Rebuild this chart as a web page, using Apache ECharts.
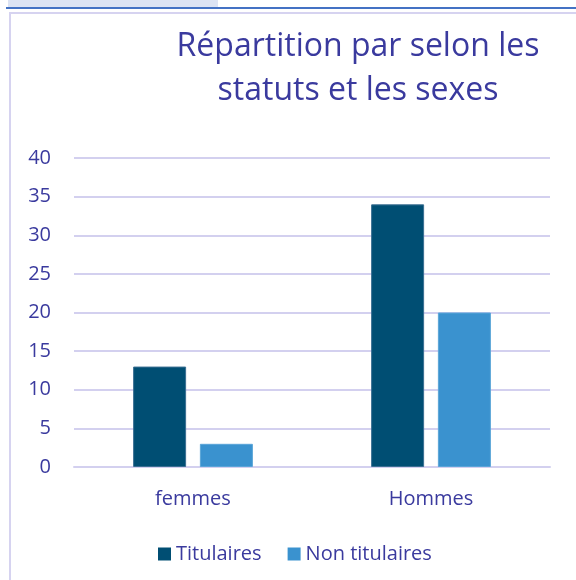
<!DOCTYPE html>
<html lang="fr">
<head>
  <meta charset="UTF-8">
  <title>Répartition par selon les statuts et les sexes</title>
  <script src="https://cdn.jsdelivr.net/npm/echarts@6/dist/echarts.min.js"></script>
  <style>
    html, body { margin: 0; padding: 0; background: #fff; }
  </style>
</head>
<body>
<div id="main" style="width: 576px;height:580px;"></div>
<script type="text/javascript">
  // données
  var categories = ['femmes', 'Hommes'];
  var titulaires = [13, 34];
  var nonTitulaires = [3, 20];
  var seriesNames = ['Titulaires', 'Non titulaires'];

  var textColor = '#3a3a9e';
  var gridColor = '#d3d0ef';

  var myChart = echarts.init(document.getElementById('main'));
  myChart.setOption({
    animation: false,
    textStyle: { fontFamily: 'Open Sans' },
    title: {
      text: 'Répartition par selon les\nstatuts et les sexes',
      left: 353,
      top: 20,
      textAlign: 'center',
      textStyle: {
        color: textColor,
        fontSize: 32,
        fontWeight: 'normal',
        lineHeight: 44,
        fontFamily: 'Open Sans'
      }
    },
    graphic: [
      // bandeau et bordures autour du graphique
      { type: 'rect', shape: { x: 8, y: 0, width: 210, height: 7 }, style: { fill: '#dce3f3' } },
      { type: 'rect', shape: { x: 6, y: 7, width: 570, height: 2 }, style: { fill: '#4472c4' } },
      { type: 'rect', shape: { x: 9, y: 12, width: 567, height: 2 }, style: { fill: '#d6d3f0' } },
      { type: 'rect', shape: { x: 9, y: 12, width: 2, height: 568 }, style: { fill: '#d6d3f0' } }
    ],
    legend: {
      data: seriesNames,
      left: 153,
      top: 539,
      icon: 'rect',
      itemWidth: 13,
      itemHeight: 13,
      itemGap: 26,
      itemStyle: { borderWidth: 0 },
      textStyle: { color: textColor, fontSize: 20, fontFamily: 'Open Sans' }
    },
    grid: { left: 74, right: 26, top: 158, bottom: 113 },
    xAxis: {
      type: 'category',
      data: categories,
      axisLine: { lineStyle: { color: gridColor, width: 2 } },
      axisTick: { show: false },
      axisLabel: { color: textColor, fontSize: 20, margin: 22 }
    },
    yAxis: {
      type: 'value',
      min: 0,
      max: 40,
      interval: 5,
      axisLine: { show: false },
      axisTick: { show: false },
      axisLabel: { color: textColor, fontSize: 20, margin: 23 },
      splitLine: { lineStyle: { color: gridColor, width: 2 } }
    },
    series: [
      {
        name: seriesNames[0],
        type: 'bar',
        data: titulaires,
        barWidth: 53,
        barGap: '26%',
        itemStyle: { color: '#004e73', borderColor: '#3a6f92', borderWidth: 1 }
      },
      {
        name: seriesNames[1],
        type: 'bar',
        data: nonTitulaires,
        barWidth: 53,
        itemStyle: { color: '#3a92cf', borderColor: '#5aa5d8', borderWidth: 1 }
      }
    ]
  });
</script>
</body>
</html>
